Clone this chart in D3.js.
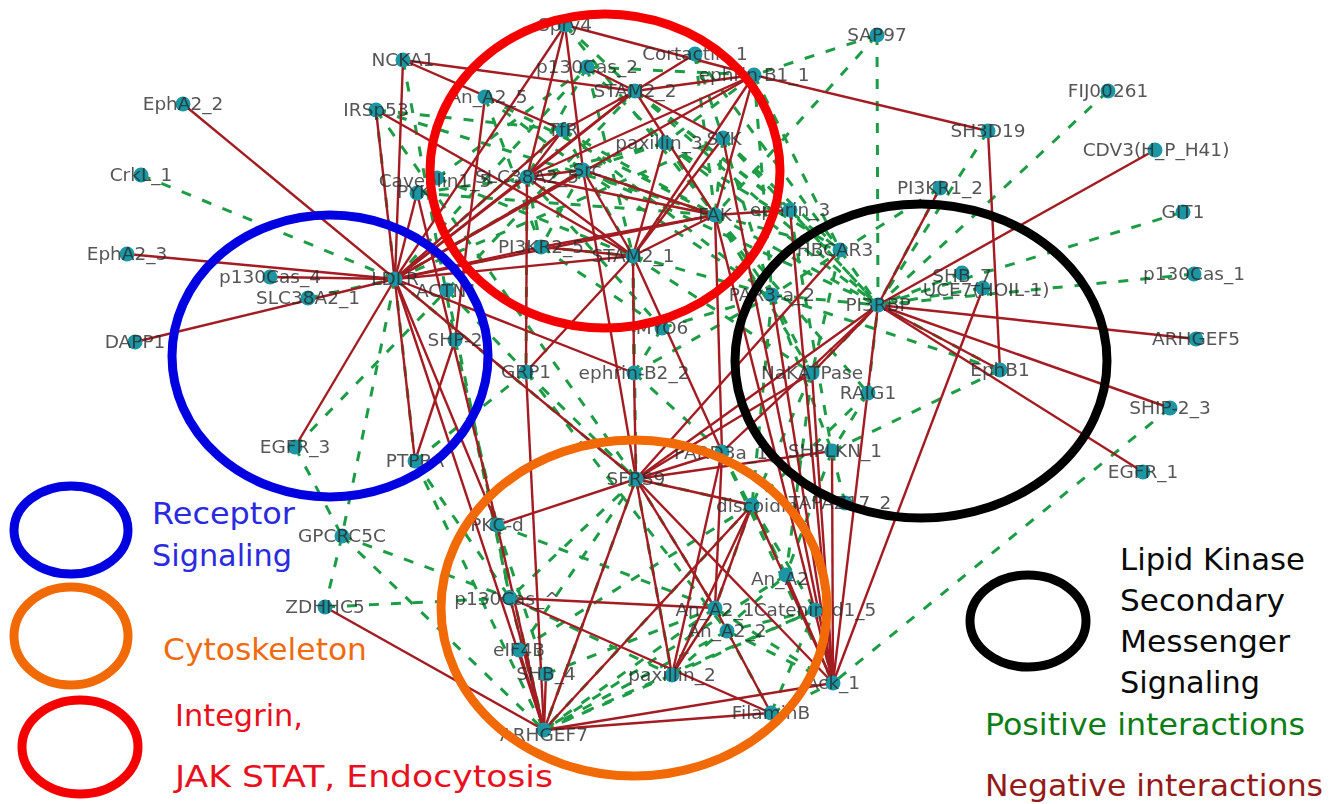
<!DOCTYPE html>
<html>
<head>
<meta charset="utf-8">
<script src="https://cdn.jsdelivr.net/npm/d3@7"></script>
<style>
  body { margin: 0; background: #fff; }
  svg { display: block; }
  .nodeLabel { font-family: "DejaVu Sans", sans-serif; font-size: 18.5px; fill: #2b2b2b; fill-opacity: .8; text-anchor: middle; }
  .legendText { font-family: "DejaVu Sans", sans-serif; font-size: 30px; }
</style>
</head>
<body>
<div id="network"></div>
<script>
// nodes (name, x, y in picture pixels)
var nodeNames = ["LDLR","NCKA1","IRSp53","EphA2_2","CrkL_1","EphA2_3","DAPP1","p130Cas_4","SLC38A2_1","EGFR_3","PTPRA","SHP-2","ACTN1","PYK","Caveolin1_5","Spry4","Cortactin_1","p130Cas_2","ephrin-B1_1","STAM2_2","An_A2_5","TfR","paxillin_3","SYK","Src","SLC38A2_5","FAK","ephrin_3","PI3KR2_5","STAM2_1","HBCAR3","PAR3-a_2","PI3RBP","SHB_7","UCE7(HOIL-1)","PI3KR1_2","SH3D19","SAP97","FIJ00261","CDV3(H_P_H41)","GIT1","p130Cas_1","ARHGEF5","SHIP-2_3","EGFR_1","EphB1","NaKATPase","RAIG1","SHPLKN_1","PARD3a_1","discoidin","TAPAZ17_2","SFRS9","ephrin-B2_2","MYO6","GRP1","PKC-d","GPCRC5C","ZDHHC5","p130Cas_^","eIF4B","SHB_4","ARHGEF7","paxillin_2","An_A2_1","An_A2_2","An_A2","Catenin-d1_5","Ack_1","FilaminB"];
var nodeX = [395,403,376,183,141,127,135,270,308,295,415,455,447,417,437,565,695,587,754,635,485,563,665,723,583,527,715,790,541,633,840,772,878,962,983,940,988,877,1108,1155,1183,1194,1196,1170,1143,1000,812,868,832,722,752,845,636,634,662,526,497,342,325,510,519,546,544,672,715,727,786,815,833,771];
var nodeY = [279,60,110,104,175,254,342,277,298,447,461,340,290,193,178,25,54,67,75,91,97,130,143,138,170,177,215,210,247,256,250,295,305,273,288,188,131,35,91,150,212,274,339,408,472,370,373,393,451,452,505,503,479,373,328,372,525,536,607,598,650,674,730,675,608,631,575,610,683,713];

var negativeEdges = [
  ["LDLR","EphA2_2"],["LDLR","EphA2_3"],["LDLR","DAPP1"],["LDLR","p130Cas_4"],["LDLR","EGFR_3"],["LDLR","NCKA1"],
  ["LDLR","Spry4"],["LDLR","TfR"],["LDLR","SLC38A2_5"],["LDLR","Src"],["LDLR","STAM2_1"],["LDLR","PI3KR2_5"],
  ["LDLR","FAK"],["LDLR","ephrin-B2_2"],["LDLR","SFRS9"],["LDLR","PKC-d"],
  ["LDLR","PYK"],["LDLR","STAM2_2"],["LDLR","ephrin-B1_1"],["LDLR","ARHGEF7"],
  ["NCKA1","STAM2_2"],["NCKA1","TfR"],["Spry4","ephrin-B1_1"],["Spry4","Src"],["Spry4","SLC38A2_5"],
  ["IRSp53","STAM2_1"],["IRSp53","PTPRA"],["An_A2_5","SHP-2"],["SLC38A2_5","GRP1"],["GRP1","ARHGEF7"],
  ["PYK","PKC-d"],["SHP-2","PTPRA"],["Src","FAK"],["Src","STAM2_1"],["Src","SFRS9"],["SLC38A2_5","FAK"],
  ["SLC38A2_5","STAM2_2"],["SLC38A2_5","ephrin-B1_1"],["SLC38A2_5","Src"],["SLC38A2_5","TfR"],["SLC38A2_5","STAM2_1"],
  ["STAM2_2","p130Cas_2"],["STAM2_2","Cortactin_1"],["STAM2_2","ephrin-B1_1"],["STAM2_2","SYK"],["STAM2_2","FAK"],["STAM2_2","TfR"],
  ["STAM2_1","FAK"],["STAM2_1","ephrin-B1_1"],["STAM2_1","SYK"],["STAM2_1","paxillin_3"],["STAM2_1","GRP1"],["STAM2_1","PI3KR2_5"],
  ["STAM2_1","PARD3a_1"],["FAK","ephrin_3"],["FAK","PARD3a_1"],["FAK","PI3KR2_5"],["FAK","Ack_1"],["SYK","Ack_1"],
  ["ephrin-B1_1","SH3D19"],["ephrin-B1_1","FAK"],["SH3D19","EphB1"],
  ["PI3RBP","EphB1"],["PI3RBP","ARHGEF5"],["PI3RBP","SHIP-2_3"],["PI3RBP","EGFR_1"],["PI3RBP","CDV3(H_P_H41)"],["PI3RBP","PI3KR1_2"],
  ["PI3RBP","NaKATPase"],["PI3RBP","Ack_1"],["PI3RBP","SFRS9"],["PI3RBP","PARD3a_1"],["UCE7(HOIL-1)","Ack_1"],["HBCAR3","SFRS9"],
  ["ephrin_3","Ack_1"],["PAR3-a_2","Ack_1"],["NaKATPase","Ack_1"],["SHPLKN_1","Ack_1"],["discoidin","Ack_1"],["An_A2","Ack_1"],
  ["SFRS9","ephrin-B2_2"],["ephrin-B2_2","STAM2_1"],["SFRS9","PKC-d"],["SFRS9","ARHGEF7"],["SFRS9","paxillin_2"],["SFRS9","discoidin"],
  ["SFRS9","PARD3a_1"],["SFRS9","Ack_1"],["SFRS9","An_A2_1"],["SFRS9","SHPLKN_1"],["SFRS9","NaKATPase"],
  ["ARHGEF7","SHB_4"],["ARHGEF7","eIF4B"],["ARHGEF7","p130Cas_^"],["ARHGEF7","PKC-d"],["ARHGEF7","ZDHHC5"],["ARHGEF7","FilaminB"],
  ["ARHGEF7","Ack_1"],["ARHGEF7","discoidin"],["p130Cas_^","An_A2_1"],["p130Cas_^","FilaminB"],
  ["paxillin_2","discoidin"],["paxillin_2","PARD3a_1"],["paxillin_2","An_A2_1"],["An_A2_1","FilaminB"],["An_A2_1","PARD3a_1"],["An_A2_1","discoidin"]
];

var positiveEdges = [
  ["CrkL_1","LDLR"],["EGFR_3","GPCRC5C"],["EGFR_3","ACTN1"],["LDLR","GPCRC5C"],["LDLR","PTPRA"],["GPCRC5C","ZDHHC5"],
  ["LDLR","SFRS9"],["SLC38A2_1","LDLR"],["NCKA1","SHP-2"],["IRSp53","LDLR"],["IRSp53","TfR"],["IRSp53","FAK"],["IRSp53","SFRS9"],
  ["SHP-2","PKC-d"],["SHP-2","p130Cas_^"],["ACTN1","p130Cas_^"],["GRP1","SFRS9"],["GRP1","An_A2_2"],["ACTN1","GRP1"],["ACTN1","STAM2_2"],
  ["LDLR","TfR"],["LDLR","p130Cas_2"],["LDLR","SYK"],["LDLR","Src"],["PYK","FAK"],["PYK","Src"],["Caveolin1_5","STAM2_1"],["Caveolin1_5","p130Cas_2"],
  ["An_A2_5","FAK"],["An_A2_5","Src"],["An_A2_5","PI3KR2_5"],["Spry4","STAM2_2"],["Spry4","FAK"],["p130Cas_2","ephrin-B1_1"],["p130Cas_2","SLC38A2_5"],
  ["p130Cas_2","paxillin_3"],["p130Cas_2","STAM2_1"],["Cortactin_1","FAK"],["Cortactin_1","HBCAR3"],["Cortactin_1","SYK"],["ephrin-B1_1","HBCAR3"],
  ["ephrin-B1_1","PAR3-a_2"],["ephrin-B1_1","paxillin_3"],["SAP97","ephrin-B1_1"],["SAP97","PI3RBP"],["SAP97","FAK"],["STAM2_2","HBCAR3"],["STAM2_2","ephrin_3"],
  ["STAM2_2","PI3RBP"],["TfR","FAK"],["TfR","STAM2_1"],["TfR","PAR3-a_2"],["paxillin_3","PI3RBP"],["paxillin_3","HBCAR3"],["paxillin_3","FAK"],
  ["paxillin_3","Src"],["SYK","PI3RBP"],["SYK","HBCAR3"],["SYK","FAK"],["SYK","PAR3-a_2"],["Src","PI3RBP"],["Src","FAK"],["Src","PAR3-a_2"],["Src","PI3KR2_5"],
  ["SLC38A2_5","PI3KR2_5"],["SLC38A2_5","GRP1"],["SLC38A2_5","MYO6"],["SLC38A2_5","paxillin_3"],["FAK","PI3RBP"],["FAK","HBCAR3"],["FAK","NaKATPase"],
  ["FAK","RAIG1"],["FAK","PAR3-a_2"],["ephrin_3","PI3RBP"],["ephrin_3","SHPLKN_1"],["PI3KR2_5","MYO6"],["PI3KR2_5","STAM2_1"],["STAM2_1","ephrin-B2_2"],
  ["STAM2_1","PAR3-a_2"],["STAM2_1","SFRS9"],["STAM2_1","NaKATPase"],["MYO6","PAR3-a_2"],["MYO6","ephrin-B2_2"],["HBCAR3","PI3RBP"],["HBCAR3","NaKATPase"],
  ["PAR3-a_2","PI3RBP"],["PAR3-a_2","SHPLKN_1"],["PAR3-a_2","NaKATPase"],["PAR3-a_2","discoidin"],["PI3KR1_2","PI3RBP"],["PI3KR1_2","PAR3-a_2"],["SH3D19","PI3RBP"],
  ["FIJ00261","PI3RBP"],["GIT1","PI3RBP"],["p130Cas_1","PI3RBP"],["SHB_7","PI3RBP"],["UCE7(HOIL-1)","PI3RBP"],["EphB1","PI3RBP"],["EphB1","SHPLKN_1"],
  ["EphB1","PAR3-a_2"],["RAIG1","PI3RBP"],["NaKATPase","PI3RBP"],["SHIP-2_3","Ack_1"],["RAIG1","SHPLKN_1"],["NaKATPase","discoidin"],["NaKATPase","An_A2"],
  ["RAIG1","discoidin"],["SHPLKN_1","TAPAZ17_2"],["SHPLKN_1","An_A2"],["ephrin-B2_2","PAR3-a_2"],["ephrin-B2_2","PARD3a_1"],["SFRS9","discoidin"],["SFRS9","An_A2_1"],
  ["SFRS9","ARHGEF7"],["SFRS9","p130Cas_^"],["SFRS9","paxillin_2"],["discoidin","ARHGEF7"],["discoidin","An_A2_1"],["discoidin","An_A2"],["discoidin","Catenin-d1_5"],
  ["PARD3a_1","An_A2"],["PARD3a_1","Ack_1"],["An_A2","ARHGEF7"],["An_A2_1","ARHGEF7"],["An_A2_2","ARHGEF7"],["An_A2_1","An_A2_2"],["An_A2_1","Ack_1"],
  ["An_A2_2","Ack_1"],["An_A2_2","FilaminB"],["paxillin_2","ARHGEF7"],["paxillin_2","Catenin-d1_5"],["paxillin_2","An_A2"],["Catenin-d1_5","Ack_1"],
  ["Catenin-d1_5","ARHGEF7"],["Catenin-d1_5","An_A2_2"],["PKC-d","p130Cas_^"],["PKC-d","An_A2_1"],["PKC-d","SHB_4"],["PKC-d","ARHGEF7"],["GPCRC5C","p130Cas_^"],
  ["GPCRC5C","ARHGEF7"],["ZDHHC5","p130Cas_^"],["p130Cas_^","ARHGEF7"],["p130Cas_^","paxillin_2"],["eIF4B","discoidin"],["eIF4B","SFRS9"],["SHB_4","An_A2_1"],
  ["FilaminB","Catenin-d1_5"],["FilaminB","Ack_1"],["PTPRA","ARHGEF7"],["PTPRA","GRP1"],["PTPRA","p130Cas_^"]
];

// text, colour, x, baseline y, width on the picture
var legendLines = [
  ["Receptor","#2a2ae0",152,524,143],["Signaling","#2a2ae0",152,566,140],["Cytoskeleton","#f06a10",163,660,204],
  ["Integrin,","#e8101e",175,726,128],["JAK STAT, Endocytosis","#e8101e",175,787,378],
  ["Lipid Kinase","#0a0a0a",1120,570,185],["Secondary","#0a0a0a",1120,611,165],["Messenger","#0a0a0a",1120,652,170],["Signaling","#0a0a0a",1120,693,140],
  ["Positive interactions","#0c7d14",985,735,320],["Negative interactions","#941a1a",985,796,338]
];

// grouping rings: cx, cy, rx, ry, colour
var rings = [
  [330,356,158,141,"#0000e0"],[605,171,175,157,"#f40000"],[921,361,186,157,"#000000"],[634,608,193,168,"#f26a06"],
  [71,530,57,44,"#0000e0"],[71,636,57,49,"#f26a06"],[80,747,58,47,"#f40000"],[1028,621,58,46,"#000000"]
];

// labels that do not sit centred on their node
var labelShift = {"paxillin_3":[-6,0],"SYK":[1,1],"Caveolin1_5":[-2,3],"PYK":[-3,-1],"An_A2_5":[3,0],"p130Cas_^":[-3,1],"ACTN1":[0,1],"UCE7(HOIL-1)":[3,2],"HBCAR3":[-5,0],"SHB_7":[0,3],"An_A2":[-6,4],"An_A2_1":[0,2],"ARHGEF7":[0,5],"TAPAZ17_2":[-5,0],"discoidin":[5,1],"PARD3a_1":[-1,1],"SHPLKN_1":[3,0],"CDV3(H_P_H41)":[1,0],"Src":[4,0]};

var svgWidth = 1340, svgHeight = 804;
var x = d3.scaleLinear().domain([0, 1340]).range([0, svgWidth]);
var y = d3.scaleLinear().domain([0, 804]).range([0, svgHeight]);

var svg = d3.select("#network").append("svg")
  .attr("width", svgWidth)
  .attr("height", svgHeight);

// the source is a soft, scaled up screenshot
var blur = svg.append("defs").append("filter").attr("id", "soft")
  .attr("x", 0).attr("y", 0).attr("width", 1).attr("height", 1)
  .attr("filterUnits", "objectBoundingBox");
blur.append("feGaussianBlur").attr("stdDeviation", 0.7);

var nodes = nodeNames.map(function(name, i) {
  return { name: name, x: nodeX[i], y: nodeY[i] };
});
var byName = {};
nodes.forEach(function(n) { byName[n.name] = n; });

var graph = svg.append("g").attr("filter", "url(#soft)");

function drawEdges(list, cls, color, width, dash) {
  graph.append("g").attr("class", cls)
    .selectAll("line")
    .data(list)
    .enter()
    .append("line")
    .attr("x1", d => x(byName[d[0]].x))
    .attr("y1", d => y(byName[d[0]].y))
    .attr("x2", d => x(byName[d[1]].x))
    .attr("y2", d => y(byName[d[1]].y))
    .attr("stroke", color)
    .attr("stroke-width", width)
    .attr("stroke-dasharray", dash);
}

drawEdges(positiveEdges, "positive", "#1f9c45", 3, "10,12");
drawEdges(negativeEdges, "negative", "#a21b22", 2.4, null);

graph.append("g").selectAll("circle")
  .data(nodes)
  .enter()
  .append("circle")
  .attr("cx", d => x(d.x))
  .attr("cy", d => y(d.y))
  .attr("r", 7.5)
  .attr("fill", "#1b96a3");

graph.append("g").selectAll("text")
  .data(nodes)
  .enter()
  .append("text")
  .attr("class", "nodeLabel")
  .attr("x", d => x(d.x) + (labelShift[d.name] ? labelShift[d.name][0] : 0))
  .attr("y", d => y(d.y) + 6 + (labelShift[d.name] ? labelShift[d.name][1] : 0))
  .text(d => d.name);

svg.append("g").selectAll("ellipse")
  .data(rings)
  .enter()
  .append("ellipse")
  .attr("cx", d => x(d[0]))
  .attr("cy", d => y(d[1]))
  .attr("rx", d => d[2])
  .attr("ry", d => d[3])
  .attr("fill", "none")
  .attr("stroke", d => d[4])
  .attr("stroke-width", 9);

svg.append("g").selectAll("text")
  .data(legendLines)
  .enter()
  .append("text")
  .attr("class", "legendText")
  .attr("x", d => x(d[2]))
  .attr("y", d => y(d[3]))
  .attr("fill", d => d[1])
  .attr("textLength", d => d[4])
  .attr("lengthAdjust", "spacingAndGlyphs")
  .text(d => d[0]);
</script>
</body>
</html>
